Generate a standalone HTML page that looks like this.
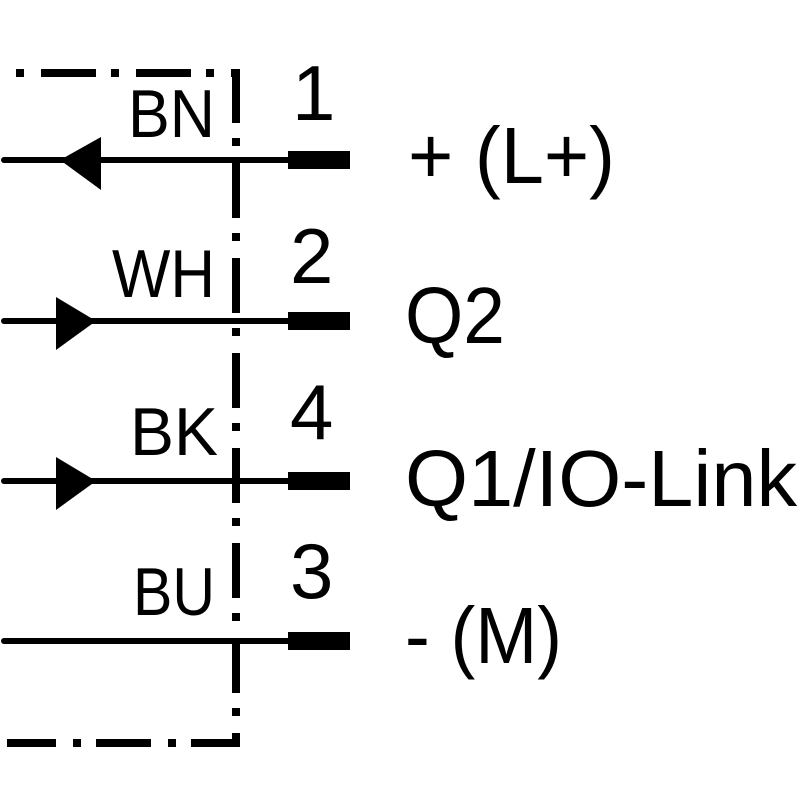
<!DOCTYPE html>
<html><head><meta charset="utf-8"><style>html,body{margin:0;padding:0;background:#fff}svg{display:block}</style></head>
<body>
<svg width="800" height="800" viewBox="0 0 800 800" xmlns="http://www.w3.org/2000/svg" font-family="Liberation Sans, sans-serif" fill="#000">
<path d="M16 73 H236 V743 H7" fill="none" stroke="#000" stroke-width="8" stroke-dasharray="8 17 55 15" stroke-dashoffset="0"/>
<g stroke="#000" stroke-width="6" stroke-linecap="round">
<line x1="4" y1="160" x2="295" y2="160"/>
<line x1="4" y1="321" x2="295" y2="321"/>
<line x1="4" y1="481" x2="295" y2="481"/>
<line x1="4" y1="641" x2="295" y2="641"/>
</g>
<rect x="288" y="151" width="62" height="18"/>
<rect x="288" y="312" width="62" height="18"/>
<rect x="288" y="472" width="62" height="18"/>
<rect x="288" y="632" width="62" height="18"/>
<polygon points="60,160 101,137 101,190"/>
<polygon points="96,321 56,297 56,350"/>
<polygon points="96,481 56,457 56,510"/>
<g font-size="68">
<text x="128" y="137" textLength="87" lengthAdjust="spacingAndGlyphs">BN</text>
<text x="112" y="297" textLength="103" lengthAdjust="spacingAndGlyphs">WH</text>
<text x="130" y="455" textLength="88" lengthAdjust="spacingAndGlyphs">BK</text>
<text x="133" y="615" textLength="82" lengthAdjust="spacingAndGlyphs">BU</text>
</g>
<g font-size="78">
<text x="292" y="120">1</text>
<text x="290" y="283">2</text>
<text x="290" y="439">4</text>
<text x="290" y="598">3</text>
</g>
<g font-size="80">
<text x="408" y="183" textLength="207" lengthAdjust="spacingAndGlyphs">+ (L+)</text>
<text x="405" y="343" textLength="100" lengthAdjust="spacingAndGlyphs">Q2</text>
<text x="405" y="506" textLength="392" lengthAdjust="spacingAndGlyphs">Q1/IO-Link</text>
<text x="405" y="663" textLength="157" lengthAdjust="spacingAndGlyphs">- (M)</text>
</g>
</svg>
</body></html>
